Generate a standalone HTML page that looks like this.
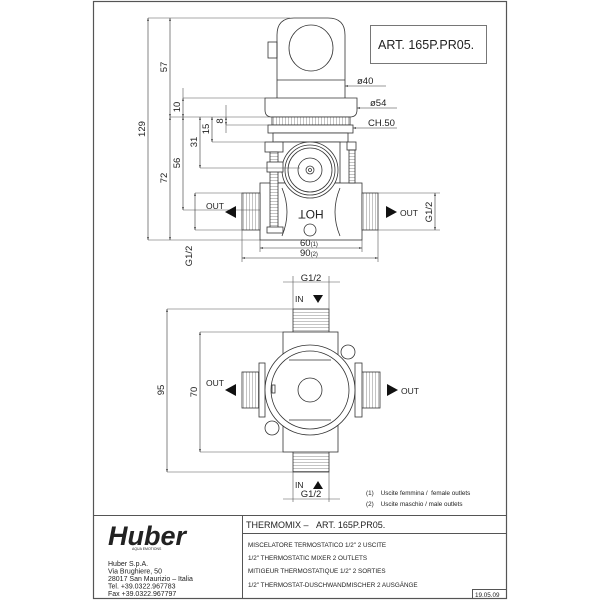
<!DOCTYPE html>
<html><head><meta charset="utf-8"><style>
html,body{margin:0;padding:0;background:#fff;}
svg{display:block;}
text{font-family:"Liberation Sans",sans-serif;fill:#222;}
</style></head><body>
<svg width="600" height="600" viewBox="0 0 600 600" xmlns="http://www.w3.org/2000/svg">
<defs>
<marker id="a" viewBox="0 0 10 10" refX="10" refY="5" markerWidth="5" markerHeight="5" orient="auto-start-reverse"><path d="M0,2L10,5L0,8z" fill="#333"/></marker>
<pattern id="th" width="3" height="3" patternUnits="userSpaceOnUse"><rect width="3" height="3" fill="#fff"/><line x1="0" y1="0" x2="0" y2="3" stroke="#555" stroke-width="0.7"/></pattern>
<pattern id="tv" width="3" height="3" patternUnits="userSpaceOnUse"><rect width="3" height="3" fill="#fff"/><line x1="0" y1="0" x2="3" y2="0" stroke="#555" stroke-width="0.7"/></pattern>
</defs>
<!-- frame -->
<rect x="93.5" y="1.5" width="413" height="597" fill="none" stroke="#555" stroke-width="1.2"/>
<line x1="93" y1="515.5" x2="507" y2="515.5" stroke="#555"/>
<line x1="242.5" y1="515" x2="242.5" y2="598" stroke="#555"/>
<line x1="242" y1="533.5" x2="507" y2="533.5" stroke="#555"/>
<rect x="472.5" y="589.5" width="34" height="9" fill="none" stroke="#555"/>

<g stroke="#333" stroke-width="0.8" fill="none">
<!-- TOP VIEW body -->
<path d="M277,98 V35 Q277,18 294,18 H328 Q345,18 345,35 V98" fill="#fff"/>
<ellipse cx="311" cy="48" rx="22" ry="23"/>
<line x1="277" y1="80" x2="345" y2="80"/>
<rect x="268" y="42" width="9" height="16"/>
<path d="M265,98 H357 V110 Q357,117 350,117 H272 Q265,117 265,110 Z" fill="#fff"/>
<rect x="272" y="117" width="78" height="8" fill="url(#th)"/>
<rect x="268" y="125" width="85" height="8" fill="#fff"/>
<rect x="273" y="133" width="75" height="9" fill="#fff"/>
<rect x="275" y="142" width="65" height="41" fill="#fff"/>
<rect x="260" y="183" width="102" height="57" fill="#fff"/>
<rect x="242" y="193" width="18" height="37" fill="url(#th)"/>
<rect x="362" y="193" width="16" height="37" fill="url(#th)"/>
<path d="M282,188 Q292,212 282,236"/><path d="M340,188 Q330,212 340,236"/>
<circle cx="310" cy="170" r="28" fill="#fff"/>
<circle cx="310" cy="170" r="25"/><circle cx="310" cy="170" r="22"/>
<circle cx="310" cy="170" r="12"/><circle cx="310" cy="170" r="4"/><circle cx="310" cy="170" r="1.5"/>
<rect x="265" y="142" width="18" height="10" fill="#fff"/>
<rect x="270" y="152" width="8" height="76" fill="url(#tv)"/>
<rect x="267" y="162" width="16" height="10" fill="#fff"/>
<rect x="267" y="227" width="16" height="6" fill="#fff"/>
<rect x="347" y="142" width="9" height="8" fill="#fff"/>
<rect x="349" y="150" width="6" height="33" fill="url(#tv)"/>
<circle cx="310" cy="230" r="6"/>
<!-- top dims -->
<g stroke="#555" stroke-width="0.6">
<line x1="148" y1="18" x2="290" y2="18"/><line x1="148" y1="240" x2="260" y2="240"/>
<line x1="170" y1="117" x2="272" y2="117"/><line x1="183" y1="98" x2="265" y2="98"/>
<line x1="212" y1="142" x2="275" y2="142"/><line x1="200" y1="168" x2="300" y2="168"/>
<line x1="183" y1="210" x2="260" y2="210"/><line x1="226" y1="125" x2="270" y2="125"/>
<line x1="183" y1="88" x2="183" y2="98"/><line x1="226" y1="105" x2="226" y2="117"/><line x1="226" y1="125" x2="226" y2="133"/>
<line x1="195" y1="193" x2="242" y2="193"/><line x1="195" y1="230" x2="242" y2="230"/>
<line x1="378" y1="193" x2="440" y2="193"/><line x1="378" y1="230" x2="440" y2="230"/>
<line x1="260" y1="240" x2="260" y2="252"/><line x1="362" y1="240" x2="362" y2="252"/>
<line x1="242" y1="230" x2="242" y2="262"/><line x1="378" y1="230" x2="378" y2="262"/>
</g>
<g stroke="#333" stroke-width="0.6" marker-start="url(#a)" marker-end="url(#a)">
<line x1="148" y1="18" x2="148" y2="240"/><line x1="170" y1="18" x2="170" y2="117"/>
<line x1="170" y1="117" x2="170" y2="240"/><line x1="183" y1="98" x2="183" y2="117"/>
<line x1="183" y1="117" x2="183" y2="210"/><line x1="200" y1="117" x2="200" y2="168"/>
<line x1="212" y1="117" x2="212" y2="142"/><line x1="226" y1="117" x2="226" y2="125"/>
<line x1="435" y1="193" x2="435" y2="230"/><line x1="195" y1="193" x2="195" y2="230"/>
<line x1="260" y1="248" x2="362" y2="248"/><line x1="242" y1="258" x2="378" y2="258"/>
</g>
<g stroke="#333" stroke-width="0.6">
<line x1="345" y1="86" x2="386" y2="86" marker-start="url(#a)"/>
<line x1="357" y1="108" x2="397" y2="108" marker-start="url(#a)"/>
<line x1="353" y1="128" x2="397" y2="128" marker-start="url(#a)"/>
</g>
<rect x="370.5" y="25.5" width="116" height="38" stroke="#555"/>

<!-- BOTTOM VIEW -->
<rect x="293" y="309" width="36" height="23" fill="url(#tv)"/>
<rect x="293" y="452" width="36" height="20" fill="url(#tv)"/>
<rect x="283" y="332" width="55" height="120" fill="#fff"/>
<rect x="242" y="372" width="17" height="36" fill="url(#th)"/>
<rect x="362" y="372" width="18" height="36" fill="url(#th)"/>
<rect x="259" y="363" width="6" height="54" fill="#fff"/>
<rect x="355" y="363" width="7" height="54" fill="#fff"/>
<circle cx="348" cy="352" r="7" fill="#fff"/><circle cx="272" cy="428" r="7" fill="#fff"/>
<circle cx="310" cy="390" r="45" fill="#fff"/>
<circle cx="310" cy="390" r="39"/>
<line x1="289" y1="360" x2="331" y2="360"/><line x1="289" y1="420" x2="331" y2="420"/>
<circle cx="310" cy="390" r="12"/>
<rect x="272" y="385" width="3" height="8"/>
<g stroke="#555" stroke-width="0.6">
<line x1="167" y1="309" x2="293" y2="309"/><line x1="167" y1="472" x2="293" y2="472"/>
<line x1="200" y1="332" x2="283" y2="332"/><line x1="200" y1="452" x2="283" y2="452"/>
<line x1="293" y1="276" x2="293" y2="309"/><line x1="329" y1="276" x2="329" y2="309"/>
<line x1="293" y1="472" x2="293" y2="502"/><line x1="329" y1="472" x2="329" y2="502"/>
<line x1="283" y1="282" x2="340" y2="282"/><line x1="283" y1="499" x2="340" y2="499"/>
</g>
<g stroke="#333" stroke-width="0.6" marker-start="url(#a)" marker-end="url(#a)">
<line x1="167" y1="309" x2="167" y2="472"/><line x1="200" y1="332" x2="200" y2="452"/>
</g>
</g>
<!-- triangles -->
<g fill="#111">
<path d="M225,212L236,206L236,218z"/><path d="M397,212L386,206L386,218z"/>
<path d="M225,390L236,384L236,396z"/><path d="M398,390L387,384L387,396z"/>
<path d="M313,295L323,295L318,303z"/><path d="M313,489L323,489L318,481z"/>
</g>
<!-- texts -->
<g font-size="9.5">
<text x="147" y="129" transform="rotate(-90 147 129)" text-anchor="middle" dy="-2">129</text>
<text x="169" y="67" transform="rotate(-90 169 67)" text-anchor="middle" dy="-2">57</text>
<text x="169" y="178" transform="rotate(-90 169 178)" text-anchor="middle" dy="-2">72</text>
<text x="182" y="107" transform="rotate(-90 182 107)" text-anchor="middle" dy="-2">10</text>
<text x="182" y="163" transform="rotate(-90 182 163)" text-anchor="middle" dy="-2">56</text>
<text x="199" y="142" transform="rotate(-90 199 142)" text-anchor="middle" dy="-2">31</text>
<text x="211" y="129" transform="rotate(-90 211 129)" text-anchor="middle" dy="-2">15</text>
<text x="225" y="121" transform="rotate(-90 225 121)" text-anchor="middle" dy="-2">8</text>
<text x="434" y="212" transform="rotate(-90 434 212)" text-anchor="middle" dy="-2">G1/2</text>
<text x="194" y="256" transform="rotate(-90 194 256)" text-anchor="middle" dy="-2">G1/2</text>
<text x="166" y="390" transform="rotate(-90 166 390)" text-anchor="middle" dy="-2">95</text>
<text x="199" y="392" transform="rotate(-90 199 392)" text-anchor="middle" dy="-2">70</text>
<text x="357" y="84">ø40</text>
<text x="370" y="106">ø54</text>
<text x="368" y="126">CH.50</text>
<text x="300" y="246">60<tspan font-size="6">(1)</tspan></text>
<text x="300" y="256">90<tspan font-size="6">(2)</tspan></text>
<text x="206" y="209" font-size="8.5">OUT</text>
<text x="400" y="216" font-size="8.5">OUT</text>
<text x="206" y="386" font-size="8.5">OUT</text>
<text x="401" y="394" font-size="8.5">OUT</text>
<text x="295" y="302" font-size="8.5">IN</text>
<text x="295" y="488" font-size="8.5">IN</text>
<text x="311" y="281" text-anchor="middle">G1/2</text>
<text x="311" y="497" text-anchor="middle">G1/2</text>
<text x="311" y="218" text-anchor="middle" font-size="12" transform="rotate(180 311 214)">HOT</text>
<text x="378" y="49" font-size="12.5">ART.  165P.PR05.</text>
</g>
<g font-size="6.3">
<text x="366" y="495">(1)&#160;&#160;&#160;&#160;Uscite femmina /&#160;&#160;female outlets</text>
<text x="366" y="506">(2)&#160;&#160;&#160;&#160;Uscite maschio / male outlets</text>
</g>
<!-- title block -->
<text x="108" y="545" font-size="27" font-weight="bold" font-style="italic" fill="#000">Huber</text>
<text x="132" y="550" font-size="3.5">AQUA EMOTIONS</text>
<g font-size="7">
<text x="108" y="566">Huber S.p.A.</text>
<text x="108" y="573.5">Via Brughiere, 50</text>
<text x="108" y="581">28017 San Maurizio – Italia</text>
<text x="108" y="588.5">Tel. +39.0322.967783</text>
<text x="108" y="596">Fax +39.0322.967797</text>
</g>
<text x="246" y="528" font-size="9">THERMOMIX –&#160;&#160;&#160;ART. 165P.PR05.</text>
<g font-size="6.3">
<text x="248" y="547">MISCELATORE TERMOSTATICO 1/2" 2 USCITE</text>
<text x="248" y="560">1/2" THERMOSTATIC MIXER 2 OUTLETS</text>
<text x="248" y="573">MITIGEUR THERMOSTATIQUE 1/2" 2 SORTIES</text>
<text x="248" y="587">1/2" THERMOSTAT-DUSCHWANDMISCHER 2 AUSGÄNGE</text>
<text x="475" y="597">19.05.09</text>
</g>
</svg>
</body></html>
